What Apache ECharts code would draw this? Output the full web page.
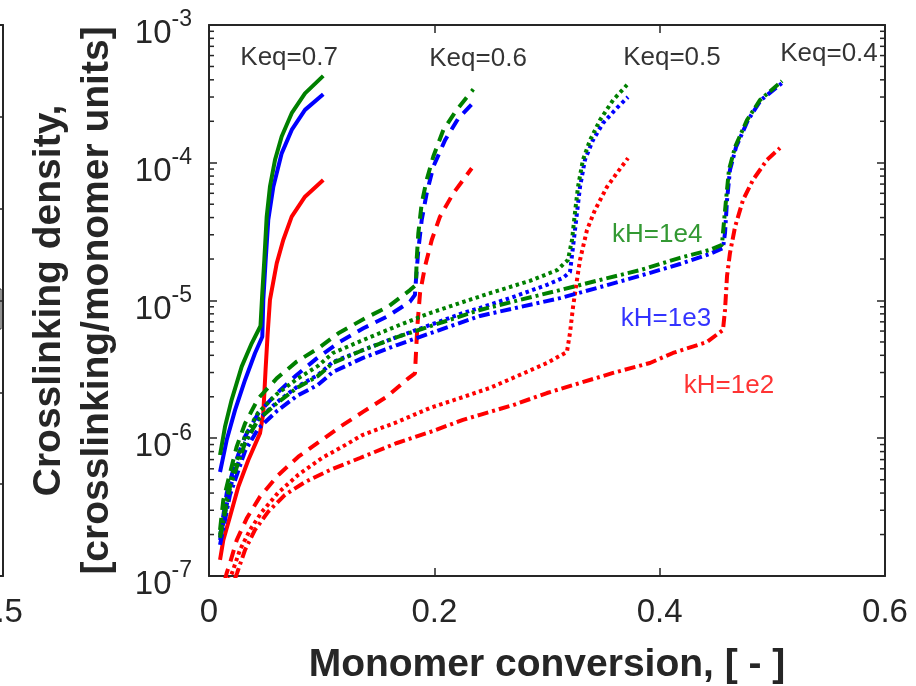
<!DOCTYPE html>
<html><head><meta charset="utf-8">
<script src="https://cdn.jsdelivr.net/npm/echarts@6/dist/echarts.min.js"></script>
<style>html,body{margin:0;padding:0;background:#fff}#c{width:916px;height:686px}</style>
</head><body><div id="c"></div>
<script>
// ---- data: [monomer conversion, crosslinking density] ----
// Keq = 0.7 (solid)
const keq07_kH1e4 = [[0.0098,7.56e-7],[0.0142,1.21e-6],[0.0201,1.90e-6],[0.029,3.31e-6],[0.0379,4.89e-6],[0.0457,6.53e-6],[0.0473,1.13e-5],[0.0491,1.97e-5],[0.0512,4.06e-5],[0.0541,6.70e-5],[0.0586,1.05e-4],[0.0645,1.55e-4],[0.0734,2.29e-4],[0.0852,3.19e-4],[0.1014,4.27e-4]];
const keq07_kH1e3 = [[0.0098,5.69e-7],[0.0157,9.7e-7],[0.0231,1.60e-6],[0.032,2.65e-6],[0.0408,4.14e-6],[0.0473,5.46e-6],[0.0482,1.01e-5],[0.0503,1.97e-5],[0.0526,3.84e-5],[0.0571,6.70e-5],[0.0645,1.17e-4],[0.0734,1.73e-4],[0.0852,2.42e-4],[0.1014,3.14e-4]];
const keq07_kH1e2 = [[0.0098,1.31e-7],[0.0127,1.82e-7],[0.0186,2.69e-7],[0.026,4.44e-7],[0.0349,6.95e-7],[0.0453,1.09e-6],[0.0482,1.52e-6],[0.0502,3.13e-6],[0.052,5.62e-6],[0.0541,1.01e-5],[0.0601,1.86e-5],[0.0659,2.75e-5],[0.0734,4.06e-5],[0.0852,5.67e-5],[0.1014,7.50e-5]];
// Keq = 0.6 (dashed)
const keq06_kH1e4 = [[0.0098,2.16e-7],[0.0127,3.56e-7],[0.0186,5.57e-7],[0.0246,8.7e-7],[0.032,1.28e-6],[0.0438,1.95e-6],[0.0601,2.72e-6],[0.0778,3.60e-6],[0.097,4.50e-6],[0.1148,5.78e-6],[0.1385,7.43e-6],[0.1591,9.02e-6],[0.1784,1.19e-5],[0.1837,1.30e-5],[0.1843,1.97e-5],[0.1858,3.08e-5],[0.1888,5.08e-5],[0.1932,7.50e-5],[0.1991,1.11e-4],[0.208,1.73e-4],[0.2198,2.42e-4],[0.2346,3.41e-4]];
const keq06_kH1e3 = [[0.0098,1.92e-7],[0.0157,3.98e-7],[0.0231,6.58e-7],[0.032,1.03e-6],[0.0438,1.52e-6],[0.0586,2.06e-6],[0.0778,2.88e-6],[0.0956,3.80e-6],[0.1163,5.02e-6],[0.137,6.28e-6],[0.1577,7.62e-6],[0.1784,9.8e-6],[0.1828,1.10e-5],[0.1837,1.41e-5],[0.1858,2.33e-5],[0.1888,3.84e-5],[0.1932,6.0e-5],[0.1991,9.36e-5],[0.2095,1.46e-4],[0.2213,2.10e-4],[0.2346,2.73e-4]];
const keq06_kH1e2 = [[0.0098,6.7e-8],[0.0157,1.05e-7],[0.0186,1.24e-7],[0.0246,1.82e-7],[0.0335,2.62e-7],[0.0453,3.77e-7],[0.0615,5.41e-7],[0.0793,7.35e-7],[0.1,9.7e-7],[0.1163,1.21e-6],[0.137,1.56e-6],[0.1577,2.0e-6],[0.1769,2.72e-6],[0.1828,2.96e-6],[0.1837,4.14e-6],[0.1849,6.46e-6],[0.1873,1.13e-5],[0.1917,1.76e-5],[0.1977,2.75e-5],[0.205,4.06e-5],[0.2168,6.0e-5],[0.2332,9.12e-5]];
// Keq = 0.5 (dotted)
const keq05_kH1e4 = [[0.0098,1.99e-7],[0.0186,4.81e-7],[0.032,1.04e-6],[0.0435,1.53e-6],[0.0604,2.10e-6],[0.0781,2.69e-6],[0.0967,3.35e-6],[0.11,4.16e-6],[0.1367,5.16e-6],[0.1669,6.53e-6],[0.1962,8.11e-6],[0.2254,9.75e-6],[0.2494,1.13e-5],[0.2849,1.39e-5],[0.3089,1.66e-5],[0.3186,1.97e-5],[0.3222,2.75e-5],[0.3248,4.32e-5],[0.3275,6.67e-5],[0.3319,1.05e-4],[0.3382,1.46e-4],[0.347,2.04e-4],[0.3586,2.85e-4],[0.371,3.67e-4]];
const keq05_kH1e3 = [[0.0098,1.82e-7],[0.0186,4.36e-7],[0.032,9.24e-7],[0.0435,1.36e-6],[0.0604,1.83e-6],[0.0781,2.36e-6],[0.0967,2.88e-6],[0.11,3.58e-6],[0.1367,4.37e-6],[0.1669,5.43e-6],[0.1962,6.64e-6],[0.2254,8.11e-6],[0.2405,8.83e-6],[0.2698,1.06e-5],[0.30,1.30e-5],[0.3142,1.46e-5],[0.3204,1.61e-5],[0.3231,2.45e-5],[0.3266,4.32e-5],[0.3293,6.67e-5],[0.3337,1.05e-4],[0.3408,1.46e-4],[0.3497,1.94e-4],[0.3621,2.50e-4],[0.3719,3.0e-4]];
const keq05_kH1e2 = [[0.0098,6.7e-8],[0.0204,1.05e-7],[0.0275,1.55e-7],[0.0364,2.16e-7],[0.047,2.92e-7],[0.0612,4.01e-7],[0.079,5.41e-7],[0.1003,7.19e-7],[0.1163,8.49e-7],[0.1367,1.06e-6],[0.1669,1.31e-6],[0.1962,1.66e-6],[0.2254,1.99e-6],[0.2494,2.32e-6],[0.2698,2.74e-6],[0.30,3.52e-6],[0.3177,4.23e-6],[0.3204,5.81e-6],[0.3231,8.97e-6],[0.3266,1.41e-5],[0.3293,1.97e-5],[0.3355,3.25e-5],[0.3426,4.54e-5],[0.3532,6.67e-5],[0.3621,8.43e-5],[0.3719,1.08e-4]];
// Keq = 0.4 (dash-dot)
const keq04_kH1e4 = [[0.0098,1.89e-7],[0.0186,4.43e-7],[0.032,9.24e-7],[0.0435,1.36e-6],[0.0604,1.80e-6],[0.0781,2.32e-6],[0.0967,2.83e-6],[0.11,3.52e-6],[0.1367,4.37e-6],[0.1669,5.43e-6],[0.1997,6.64e-6],[0.2405,8.54e-6],[0.276,1.01e-5],[0.3115,1.19e-5],[0.347,1.41e-5],[0.3825,1.66e-5],[0.418,2.04e-5],[0.4446,2.33e-5],[0.4553,2.53e-5],[0.4562,3.09e-5],[0.4589,5.37e-5],[0.4615,8.86e-5],[0.4669,1.30e-4],[0.4775,2.04e-4],[0.489,2.85e-4],[0.5086,3.92e-4]];
const keq04_kH1e3 = [[0.0098,1.68e-7],[0.0186,3.88e-7],[0.032,8.08e-7],[0.0435,1.17e-6],[0.0604,1.58e-6],[0.0781,2.03e-6],[0.0967,2.44e-6],[0.11,3.03e-6],[0.1367,3.83e-6],[0.1669,4.75e-6],[0.1997,5.91e-6],[0.2405,7.72e-6],[0.276,8.97e-6],[0.3115,1.04e-5],[0.347,1.25e-5],[0.3825,1.51e-5],[0.418,1.84e-5],[0.4446,2.18e-5],[0.4562,2.40e-5],[0.458,3.09e-5],[0.4598,5.37e-5],[0.4624,8.86e-5],[0.4678,1.30e-4],[0.4784,2.04e-4],[0.4899,2.85e-4],[0.5086,3.79e-4]];
const keq04_kH1e2 = [[0.0098,4.8e-8],[0.0249,1.05e-7],[0.032,1.55e-7],[0.0408,2.16e-7],[0.0524,2.92e-7],[0.0674,3.88e-7],[0.0852,4.81e-7],[0.1074,5.88e-7],[0.134,7.19e-7],[0.1669,9.24e-7],[0.1962,1.11e-6],[0.2254,1.36e-6],[0.2405,1.48e-6],[0.2698,1.74e-6],[0.30,2.13e-6],[0.3293,2.52e-6],[0.3586,2.98e-6],[0.3914,3.52e-6],[0.4118,4.16e-6],[0.442,5.0e-6],[0.4562,6.11e-6],[0.458,8.54e-6],[0.4598,1.51e-5],[0.4624,2.21e-5],[0.4669,3.42e-5],[0.474,5.37e-5],[0.4828,7.50e-5],[0.4953,1.05e-4],[0.5068,1.28e-4]];

// annotations
const keqText = ['Keq=0.7','Keq=0.6','Keq=0.5','Keq=0.4'];
const keqX = [0.0711, 0.2388, 0.4109, 0.5503];
const keqY = [5.81e-4, 5.71e-4, 5.81e-4, 6.16e-4];
const khText = ['kH=1e4','kH=1e3','kH=1e2'];
const khX = [0.3978, 0.4056, 0.4615];
const khY = [2.99e-5, 7.35e-6, 2.39e-6];

// axes
const xTickValues = [0, 0.2, 0.4, 0.6];
const yTickExponents = [-7, -6, -5, -4, -3];
const yMinorTicks = [];
for (let e = -7; e < -3; e++) for (let m = 2; m <= 9; m++) yMinorTicks.push(m * Math.pow(10, e));
// neighbouring (cropped) panel: only its last x tick label is visible
const leftPanelXTicks = [0, 0.1, 0.2, 0.3, 0.4, 0.5];

// styles
const C_G = '#008000', C_B = '#0000ff', C_R = '#ff0000';
const DASH = [12, 8], DOT = [3.5, 3.5], DASHDOT = [11, 4, 3, 4];
const FONT = '"Liberation Sans", Arial, Helvetica, sans-serif';
const AX = '#262626';

const curveDefs = [
  [keq07_kH1e2, C_R, 'solid'], [keq07_kH1e3, C_B, 'solid'], [keq07_kH1e4, C_G, 'solid'],
  [keq06_kH1e2, C_R, DASH], [keq06_kH1e3, C_B, DASH], [keq06_kH1e4, C_G, DASH],
  [keq05_kH1e2, C_R, DOT], [keq05_kH1e3, C_B, DOT], [keq05_kH1e4, C_G, DOT],
  [keq04_kH1e2, C_R, DASHDOT], [keq04_kH1e3, C_B, DASHDOT], [keq04_kH1e4, C_G, DASHDOT]
];

const axisLine = {show: true, onZero: false, lineStyle: {color: AX, width: 2}};
const majorTick = {show: true, inside: true, length: 8, lineStyle: {color: AX, width: 1.5}};

const series = curveDefs.map(([d, c, t]) => ({
  type: 'line', xAxisIndex: 0, yAxisIndex: 0, data: d,
  showSymbol: false, symbol: 'none', smooth: false, silent: true,
  lineStyle: {color: c, width: 4, type: t, cap: 'butt'}
}));

series.push({
  type: 'custom', xAxisIndex: 0, yAxisIndex: 0, silent: true, clip: false, z: 5,
  data: yMinorTicks.map(v => [0, v]),
  renderItem: (params, api) => {
    const v = api.value(1);
    const pl = api.coord([0, v]);
    const pr = api.coord([0.6, v]);
    const st = {stroke: AX, lineWidth: 1.5};
    return {type: 'group', children: [
      {type: 'line', shape: {x1: pl[0], y1: pl[1], x2: pl[0] + 5, y2: pl[1]}, style: st},
      {type: 'line', shape: {x1: pr[0] - 5, y1: pr[1], x2: pr[0], y2: pr[1]}, style: st}
    ]};
  }
});

series.push({
  type: 'scatter', xAxisIndex: 0, yAxisIndex: 0, silent: true, z: 10,
  symbolSize: 0.1, itemStyle: {color: 'rgba(0,0,0,0)'},
  data: keqText.map((t, i) => ({name: t, value: [keqX[i], keqY[i]]})),
  label: {show: true, position: 'inside', formatter: '{b}', fontSize: 26, color: '#000', fontFamily: FONT}
});
const khColors = [C_G, C_B, C_R];
series.push({
  type: 'scatter', xAxisIndex: 0, yAxisIndex: 0, silent: true, z: 10,
  symbolSize: 0.1, itemStyle: {color: 'rgba(0,0,0,0)'},
  data: khText.map((t, i) => ({name: t, value: [khX[i], khY[i]], label: {color: khColors[i]}})),
  label: {show: true, position: 'inside', formatter: '{b}', fontSize: 26, fontFamily: FONT}
});

const option = {
  animation: false,
  backgroundColor: '#ffffff',
  grid: [
    {left: 209, top: 25, width: 676, height: 551, containLabel: false, outerBoundsMode: 'none'},
    {left: -400, top: 25, width: 403, height: 551, containLabel: false, outerBoundsMode: 'none'}
  ],
  xAxis: [
    {gridIndex: 0, type: 'value', min: 0, max: 0.6, interval: 0.2, position: 'bottom',
     axisLine, axisTick: majorTick, splitLine: {show: false},
     axisLabel: {show: true, margin: 20, fontSize: 33, color: AX, fontFamily: FONT,
       formatter: v => { const i = xTickValues.findIndex(t => Math.abs(t - v) < 1e-9); return i >= 0 ? String(xTickValues[i]) : ''; }},
     name: 'Monomer conversion, [ - ]', nameLocation: 'middle', nameGap: 70,
     nameTextStyle: {fontSize: 39, fontWeight: 'bold', color: AX, fontFamily: FONT}},
    {gridIndex: 0, type: 'value', min: 0, max: 0.6, interval: 0.2, position: 'top',
     axisLine, axisTick: majorTick, splitLine: {show: false}, axisLabel: {show: false}},
    {gridIndex: 1, type: 'value', min: 0, max: 0.5, interval: 0.1, position: 'bottom',
     axisLine, axisTick: majorTick, splitLine: {show: false},
     axisLabel: {show: true, margin: 20, fontSize: 33, color: AX, fontFamily: FONT, padding: [0, 6, 0, 0],
       formatter: v => { const i = leftPanelXTicks.findIndex(t => Math.abs(t - v) < 1e-9); return i >= 0 ? String(leftPanelXTicks[i]) : ''; }}},
    {gridIndex: 1, type: 'value', min: 0, max: 0.5, interval: 0.1, position: 'top',
     axisLine, axisTick: majorTick, splitLine: {show: false}, axisLabel: {show: false}}
  ],
  yAxis: [
    {gridIndex: 0, type: 'log', logBase: 10, min: 1e-7, max: 1e-3, position: 'left',
     axisLine, axisTick: majorTick, splitLine: {show: false}, minorTick: {show: false},
     axisLabel: {show: true, margin: 17, color: AX, fontFamily: FONT, showMinLabel: true, showMaxLabel: true,
       formatter: v => { const e = Math.round(Math.log10(v)); return yTickExponents.includes(e) ? '{b|10}{s|' + e + '}' : ''; },
       rich: {
         b: {fontSize: 33, color: AX, fontFamily: FONT, padding: [18, 0, 0, 0]},
         s: {fontSize: 23, color: AX, fontFamily: FONT, padding: [9, 0, 19, 0]}
       }},
     name: 'Crosslinking density,\n[crosslinking/monomer units]', nameLocation: 'middle', nameGap: 88,
     nameTextStyle: {fontSize: 39, fontWeight: 'bold', color: AX, fontFamily: FONT, lineHeight: 48}},
    {gridIndex: 0, type: 'log', logBase: 10, min: 1e-7, max: 1e-3, position: 'right',
     axisLine, axisTick: majorTick, splitLine: {show: false}, axisLabel: {show: false}},
    {gridIndex: 1, type: 'value', min: 0, max: 6, interval: 1, position: 'left',
     axisLine, axisTick: {show: false}, splitLine: {show: false}, axisLabel: {show: false}},
    {gridIndex: 1, type: 'value', min: 0, max: 6, interval: 1, position: 'right',
     axisLine, axisTick: majorTick, splitLine: {show: false}, axisLabel: {show: false}}
  ],
  graphic: [
    {type: 'rect', shape: {x: -20, y: 289, width: 21, height: 40}, style: {stroke: AX, fill: 'none', lineWidth: 1}, silent: true}
  ],
  series
};

const chart = echarts.init(document.getElementById('c'), null, {renderer: 'canvas'});
chart.setOption(option);
</script>
</body></html>
